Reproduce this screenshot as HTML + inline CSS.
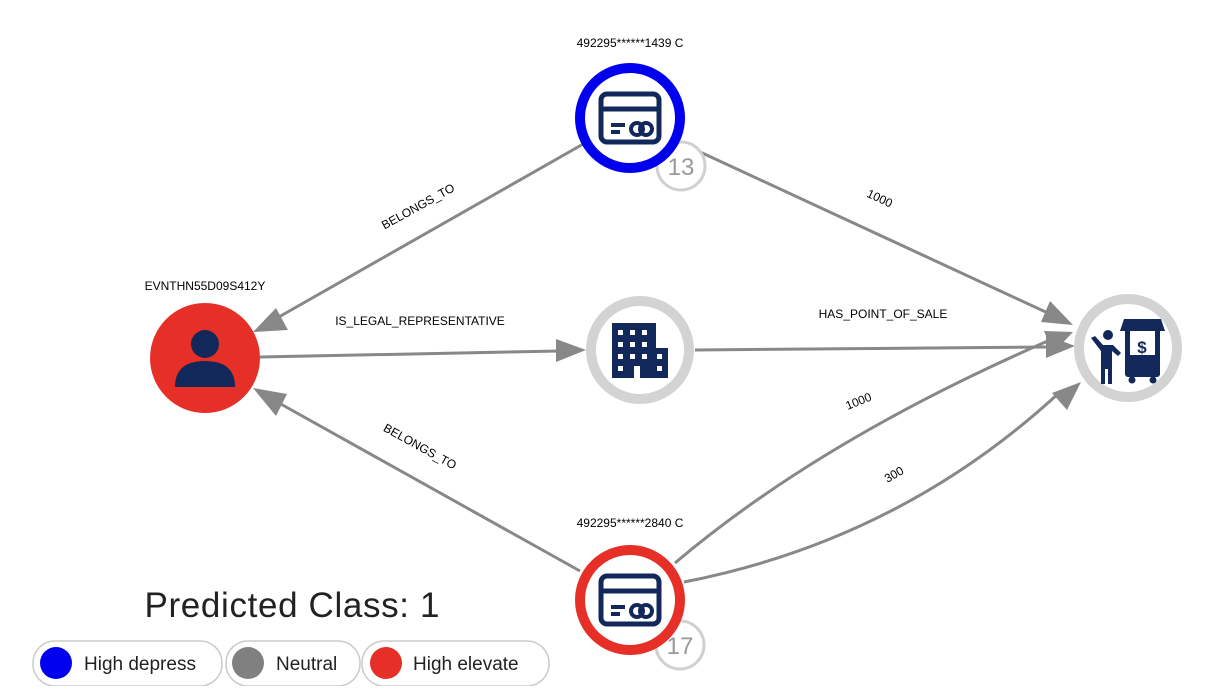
<!DOCTYPE html>
<html><head><meta charset="utf-8"><style>
body{margin:0;background:#fff;width:1230px;height:686px;overflow:hidden;font-family:"Liberation Sans",sans-serif}
</style></head><body>
<svg width="1230" height="686" viewBox="0 0 1230 686" xmlns="http://www.w3.org/2000/svg">
<defs>
<g id="card">
<rect x="-29" y="-24" width="58" height="48" rx="6" fill="none" stroke="#13285a" stroke-width="5"/>
<line x1="-29" y1="-9" x2="29" y2="-9" stroke="#13285a" stroke-width="5"/>
<rect x="-19" y="5" width="14" height="4" fill="#13285a"/>
<rect x="-19" y="12" width="9" height="4" fill="#13285a"/>
<circle cx="7" cy="11" r="6" fill="none" stroke="#13285a" stroke-width="4"/>
<circle cx="16" cy="11" r="6" fill="none" stroke="#13285a" stroke-width="4"/>
</g>
</defs>
<g stroke="#888" stroke-width="3" fill="none">
<line x1="585" y1="143" x2="270" y2="322"/>
<line x1="260" y1="357" x2="560" y2="351"/>
<line x1="685" y1="145" x2="1050" y2="314"/>
<line x1="695" y1="350" x2="1048" y2="347"/>
<line x1="580" y1="571" x2="270" y2="398"/>
<path d="M675 563 Q820 440 1050 340"/>
<path d="M684 582 Q900 540 1060 392"/>
</g>
<g fill="#888">
<polygon points="253,332 276,308 288,330"/>
<polygon points="586,350 556,339 556,362"/>
<polygon points="1073,325 1041,322 1050,301"/>
<polygon points="1075,346 1046,335 1046,358"/>
<polygon points="1073,332 1044,331 1053,353"/>
<polygon points="1081,382 1052,393 1067,410"/>
<polygon points="253,388 287,394 276,416"/>
</g>
<g font-size="12" fill="#000">
<text transform="translate(420,210) rotate(-29)" text-anchor="middle">BELONGS_TO</text>
<text x="420" y="325" text-anchor="middle">IS_LEGAL_REPRESENTATIVE</text>
<text x="883" y="318" text-anchor="middle">HAS_POINT_OF_SALE</text>
<text transform="translate(878,202) rotate(25)" text-anchor="middle">1000</text>
<text transform="translate(418,450) rotate(29)" text-anchor="middle">BELONGS_TO</text>
<text transform="translate(860,405) rotate(-22)" text-anchor="middle">1000</text>
<text transform="translate(896,478) rotate(-30)" text-anchor="middle">300</text>
<text x="630" y="47" text-anchor="middle">492295******1439 C</text>
<text x="205" y="290" text-anchor="middle">EVNTHN55D09S412Y</text>
<text x="630" y="527" text-anchor="middle">492295******2840 C</text>
</g>
<circle cx="681" cy="166" r="24" fill="#fff" stroke="#d0d0d0" stroke-width="3"/>
<text x="681" y="175" text-anchor="middle" font-size="24" fill="#999">13</text>
<circle cx="680" cy="645" r="24" fill="#fff" stroke="#d0d0d0" stroke-width="3"/>
<text x="680" y="654" text-anchor="middle" font-size="24" fill="#999">17</text>
<circle cx="630" cy="118" r="50" fill="#fff" stroke="#0000ee" stroke-width="10"/>
<use href="#card" x="630" y="118"/>
<circle cx="205" cy="358" r="55" fill="#e63027"/>
<circle cx="205" cy="344" r="14" fill="#13285a"/>
<path d="M175 387 Q175 361 205 361 Q235 361 235 387 Z" fill="#13285a"/>
<circle cx="640" cy="350" r="49" fill="#fff" stroke="#d3d3d3" stroke-width="10"/>
<rect x="612" y="323" width="44" height="55" fill="#13285a"/>
<rect x="640" y="348" width="28" height="30" fill="#13285a"/>
<g fill="#fff">
<rect x="618" y="330" width="5" height="5"/><rect x="630" y="330" width="5" height="5"/><rect x="642" y="330" width="5" height="5"/>
<rect x="618" y="342" width="5" height="5"/><rect x="630" y="342" width="5" height="5"/><rect x="642" y="342" width="5" height="5"/>
<rect x="618" y="354" width="5" height="5"/><rect x="630" y="354" width="5" height="5"/><rect x="642" y="354" width="5" height="5"/><rect x="657" y="354" width="5" height="5"/>
<rect x="618" y="366" width="5" height="5"/><rect x="657" y="366" width="5" height="5"/><rect x="634" y="366" width="6" height="12"/>
</g>
<circle cx="1128" cy="348" r="49" fill="#fff" stroke="#d3d3d3" stroke-width="10"/>
<path d="M1124 319 h37 l4 12 h-45 z" fill="#13285a"/>
<rect x="1125" y="330" width="5" height="45" fill="#13285a"/>
<rect x="1155" y="330" width="5" height="45" fill="#13285a"/>
<rect x="1125" y="355" width="35" height="22" rx="3" fill="#13285a"/>
<circle cx="1132" cy="380" r="3.5" fill="#13285a"/><circle cx="1153" cy="380" r="3.5" fill="#13285a"/>
<text x="1142" y="353" text-anchor="middle" font-size="17" font-weight="bold" fill="#13285a">$</text>
<circle cx="1108" cy="335" r="5" fill="#13285a"/>
<path d="M1091 338 l4 -2 l8 9 l10 0 l8 8 l-3 3 l-6 -5 l0 33 l-4 0 l0 -15 l-3 0 l0 15 l-4 0 l0 -33 z" fill="#13285a"/>
<circle cx="630" cy="600" r="50" fill="#fff" stroke="#e63027" stroke-width="10"/>
<use href="#card" x="630" y="600"/>
<text x="292" y="617" text-anchor="middle" font-size="35" fill="#222" textLength="295" lengthAdjust="spacing">Predicted Class: 1</text>
<g stroke="#ccc" stroke-width="1.5" fill="#fff">
<rect x="33" y="641" width="189" height="45" rx="22"/>
<rect x="226" y="641" width="134" height="45" rx="22"/>
<rect x="362" y="641" width="187" height="45" rx="22"/>
</g>
<circle cx="56" cy="663" r="16" fill="#0000ee"/>
<circle cx="248" cy="663" r="16" fill="#808080"/>
<circle cx="386" cy="663" r="16" fill="#e63027"/>
<g font-size="19" fill="#222">
<text x="84" y="670">High depress</text>
<text x="276" y="670">Neutral</text>
<text x="413" y="670">High elevate</text>
</g>
</svg>
</body></html>
